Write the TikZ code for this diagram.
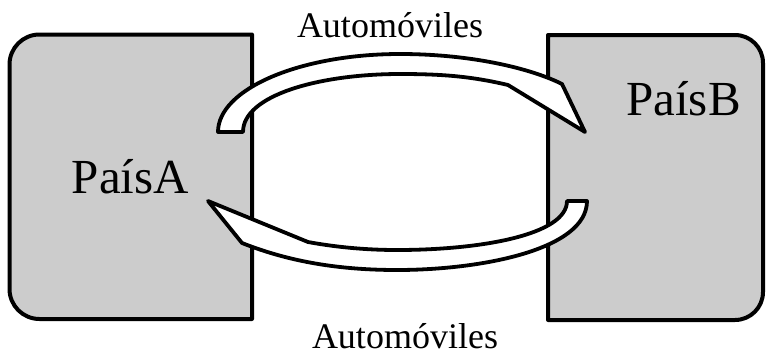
\documentclass[tikz,border=0pt]{standalone}
\usepackage{fontspec}
\setmainfont{Liberation Serif}
\definecolor{boxgray}{RGB}{204,204,204}
\begin{document}
\begin{tikzpicture}[x=1pt,y=-1pt,
  boxstyle/.style={draw=black,fill=boxgray,line width=4pt,line join=round},
  arrowshape/.style={draw=black,fill=white,line width=3.8pt,line join=round},
  big/.style={font=\fontsize{49}{49}\selectfont,anchor=base,inner sep=0pt},
  lab/.style={font=\fontsize{36}{36}\selectfont,anchor=base,inner sep=0pt}]
\useasboundingbox (0,0) rectangle (766,357);
% boxes
\path[boxstyle] (252,34.5) -- (252,319) -- (39.5,319)
  .. controls (22.9,319) and (9.5,305.6) .. (9.5,289)
  -- (9.5,64.5) .. controls (9.5,47.9) and (22.9,34.5) .. (39.5,34.5) -- cycle;
\path[boxstyle] (548,35) -- (735,35) .. controls (750.5,35) and (763,47.5) .. (763,63)
  -- (763,292) .. controls (763,307.5) and (750.5,320) .. (735,320) -- (548,320) -- cycle;
% upper arrow
\path[arrowshape] (218,132) .. controls (218,89) and (300,54) .. (400,54)
  .. controls (470,54) and (530,68) .. (562,84) -- (585,132) -- (508,85)
  .. controls (470,76) and (440,74) .. (400,74)
  .. controls (320,74) and (243,95) .. (243,132) -- cycle;
% lower arrow
\path[arrowshape] (208,201) -- (242,243) .. controls (290,262) and (340,270) .. (397,270)
  .. controls (480,270) and (587,250) .. (587,201) -- (567,201)
  .. controls (567,235) and (480,250) .. (397,250)
  .. controls (360,250) and (330,246) .. (308,242) -- cycle;
% labels
\node[big] (pa) at (130.5,193) {PaísA};
\node[big] (pb) at (683.5,115) {PaísB};
\node[lab] (top) at (390,37) {Automóviles};
\node[lab] (bot) at (405,348) {Automóviles};
\end{tikzpicture}
\end{document}
